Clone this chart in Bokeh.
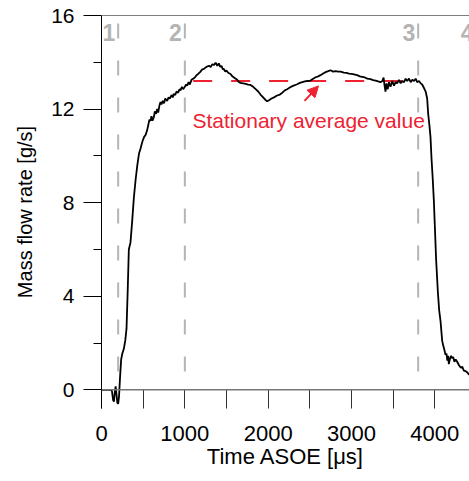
from bokeh.plotting import figure
from bokeh.models import (Range1d, FixedTicker, Span, Arrow, NormalHead)
from bokeh.core.properties import value
from bokeh.embed import file_html
from bokeh.resources import INLINE

# ---- data ----
time_us = [0, 110, 125, 140, 150, 160, 170, 180, 190, 200, 210, 222, 236, 250, 268, 285, 300, 315, 328, 348, 368, 388,
           410, 430, 450, 468, 490, 510, 530, 548, 560, 575, 588, 600, 612, 628, 640, 655, 668, 680, 695, 708, 720, 735,
           750, 765, 788, 805, 820, 840, 855, 868, 885, 900, 920, 935, 948, 965, 980, 1000, 1015, 1028, 1045, 1060, 1080,
           1100, 1120, 1140, 1160, 1188, 1210, 1230, 1250, 1268, 1290, 1310, 1330, 1348, 1370, 1390, 1408, 1425, 1440,
           1455, 1468, 1485, 1500, 1520, 1548, 1570, 1590, 1610, 1628, 1650, 1668, 1700, 1730, 1760, 1788, 1820, 1850,
           1880, 1908, 1940, 1965, 1988, 2010, 2040, 2070, 2108, 2140, 2170, 2200, 2228, 2260, 2290, 2320, 2348, 2380,
           2410, 2440, 2470, 2508, 2540, 2570, 2600, 2628, 2660, 2690, 2720, 2748, 2780, 2810, 2840, 2870, 2908, 2940,
           2970, 3000, 3030, 3068, 3100, 3130, 3160, 3190, 3228, 3260, 3290, 3320, 3348, 3370, 3385, 3395, 3408, 3420,
           3435, 3450, 3468, 3490, 3510, 3530, 3548, 3570, 3590, 3610, 3630, 3650, 3668, 3690, 3710, 3730, 3750, 3770,
           3788, 3810, 3830, 3848, 3870, 3890, 3908, 3920, 3935, 3948, 3960, 3975, 3988, 4000, 4015, 4036, 4052, 4068,
           4088, 4100, 4115, 4128, 4140, 4150, 4160, 4168, 4180, 4195, 4208, 4220, 4235, 4250, 4268, 4290, 4310, 4330,
           4348, 4370, 4390, 4408, 4430]
flow_gs = [0.0, 0.0, -0.05, -0.45, -0.5, -0.1, 0.15, -0.2, -0.55, -0.6, -0.3, 0.5, 1.3, 1.55, 1.75, 2.1, 2.6, 4.3,
           6.0, 6.3, 7.2, 8.2,
           9.0, 9.6, 10.1, 10.3, 10.6, 10.8, 10.9, 11.1, 11.3, 11.55, 11.5, 11.7, 11.5, 11.65, 11.9, 11.8, 12.0, 11.85,
           12.15, 12.3, 12.2, 12.35, 12.25, 12.45, 12.35, 12.5, 12.45, 12.6, 12.5, 12.65, 12.6, 12.75, 12.7, 12.85,
           12.8, 12.95, 12.85, 12.95, 13.05, 13.0, 13.15, 13.05, 13.25, 13.3, 13.35, 13.45, 13.5, 13.6, 13.7, 13.72,
           13.78, 13.82, 13.85, 13.8, 13.92, 13.88, 13.98, 13.85, 13.95, 13.8, 13.85, 13.7, 13.72, 13.6, 13.65, 13.55,
           13.5, 13.4, 13.35, 13.3, 13.25, 13.15, 13.12, 13.1, 13.08, 13.05, 13.03, 12.95, 12.85, 12.75, 12.62, 12.5,
           12.4, 12.33, 12.38, 12.45, 12.5, 12.58, 12.62, 12.7, 12.8, 12.85, 12.92, 12.98, 13.02, 13.06, 13.12, 13.15,
           13.18, 13.2, 13.22, 13.3, 13.36, 13.4, 13.45, 13.52, 13.58, 13.62, 13.66, 13.6, 13.62, 13.6, 13.6, 13.56,
           13.55, 13.52, 13.5, 13.48, 13.45, 13.4, 13.38, 13.35, 13.3, 13.28, 13.24, 13.22, 13.18, 13.15, 13.2, 13.35,
           13.05, 12.75, 13.1, 12.85, 13.15, 12.95, 13.2, 13.0, 13.15, 13.1, 13.25, 13.1, 13.2, 13.15, 13.3, 13.2, 13.3,
           13.15, 13.25, 13.2, 13.3, 13.15, 13.2, 13.1, 13.05, 12.9, 12.75, 12.45, 11.8, 11.3, 10.8, 9.9, 9.0, 8.1, 7.0,
           5.6, 4.2, 3.4, 2.95, 2.1, 1.9, 1.7, 1.5, 1.55, 1.25, 1.45, 1.1, 1.3, 1.45, 1.35, 1.4, 1.2, 1.3, 1.2, 1.05,
           0.95, 0.98, 0.82, 0.8, 0.74, 0.66, 0.6]

phase_times = [200, 1000, 3800, 4500]
phase_labels = ["1", "2", "3", "4"]

stationary_value = 13.2
stationary_span = [1100, 3640]
note_text = ["Stationary average value"]
note_xy = [1092, 11.5]
arrow_from = [2436, 12.35]
arrow_to = [2604, 12.99]

x_major = [0, 1000, 2000, 3000, 4000]
x_minor = [500, 1500, 2500, 3500]
y_major = [0, 4, 8, 12, 16]
y_minor = [2, 6, 10, 14]

RED = "#ee2231"
GREY = "#b4b4b4"
FONT = "Liberation Sans"

p = figure(width=469, height=481, output_backend="svg", toolbar_location=None,
           x_range=Range1d(0, 4416), y_range=Range1d(-0.8, 16),
           min_border_left=101, min_border_right=0, min_border_top=15, min_border_bottom=73)
p.outline_line_color = None
p.grid.visible = False
p.background_fill_color = "white"

# axes
xa = p.xaxis[0]
xa.ticker = FixedTicker(ticks=x_major, minor_ticks=x_minor)
xa.axis_line_color = None
xa.major_tick_in = 19
xa.major_tick_out = 0
xa.minor_tick_in = 19
xa.minor_tick_out = 0
xa.major_tick_line_color = "#333333"
xa.minor_tick_line_color = "#333333"
xa.major_label_standoff = 17
xa.major_label_text_font = FONT
xa.major_label_text_font_size = "22px"
xa.major_label_text_color = "black"
xa.axis_label = "Time ASOE [μs]"
xa.axis_label_text_font = FONT
xa.axis_label_text_font_size = "22px"
xa.axis_label_text_font_style = "normal"
xa.axis_label_text_color = "black"
xa.axis_label_standoff = 0

ya = p.yaxis[0]
ya.ticker = FixedTicker(ticks=y_major, minor_ticks=y_minor)
ya.axis_line_color = "black"
ya.major_tick_in = 0
ya.major_tick_out = 18
ya.minor_tick_in = 0
ya.minor_tick_out = 8
ya.major_tick_line_color = "black"
ya.minor_tick_line_color = "black"
ya.major_label_standoff = 9
ya.major_label_text_font = FONT
ya.major_label_text_font_size = "21px"
ya.major_label_text_color = "black"
ya.axis_label = "Mass flow rate [g/s]"
ya.axis_label_text_font = FONT
ya.axis_label_text_font_size = "20px"
ya.axis_label_text_font_style = "normal"
ya.axis_label_text_color = "black"
ya.axis_label_standoff = 12

# top frame line and zero line
p.add_layout(Span(location=16, dimension="width", line_color="black", line_width=1))
p.add_layout(Span(location=0, dimension="width", line_color="#777777", line_width=1.5))

# phase dashed lines
p.segment(x0=phase_times, y0=[16] * len(phase_times), x1=phase_times, y1=[0] * len(phase_times),
          line_color=GREY, line_width=2, line_dash="15 22", line_dash_offset=29)
p.text(x=phase_times, y=[16] * len(phase_times), text=phase_labels,
       text_font=value(FONT), text_font_size="23px", text_font_style="bold",
       text_color=GREY, text_align="right", text_baseline="top", x_offset=-3, y_offset=8)

# stationary average
p.line(x=stationary_span, y=[stationary_value, stationary_value], line_color=RED, line_width=2,
       line_dash="19 19")

# curve
p.line(x=time_us, y=flow_gs, line_color="black", line_width=1.8)

# annotation
p.text(x=[note_xy[0]], y=[note_xy[1]], text=note_text, text_font=value(FONT), text_font_size="21px",
       text_color=RED, text_align="left", text_baseline="alphabetic")
p.add_layout(Arrow(end=NormalHead(size=11, fill_color=RED, line_color=RED),
                   x_start=arrow_from[0], y_start=arrow_from[1], x_end=arrow_to[0], y_end=arrow_to[1],
                   line_color=RED, line_width=2))

open("out.html", "w").write(file_html(p, INLINE))
